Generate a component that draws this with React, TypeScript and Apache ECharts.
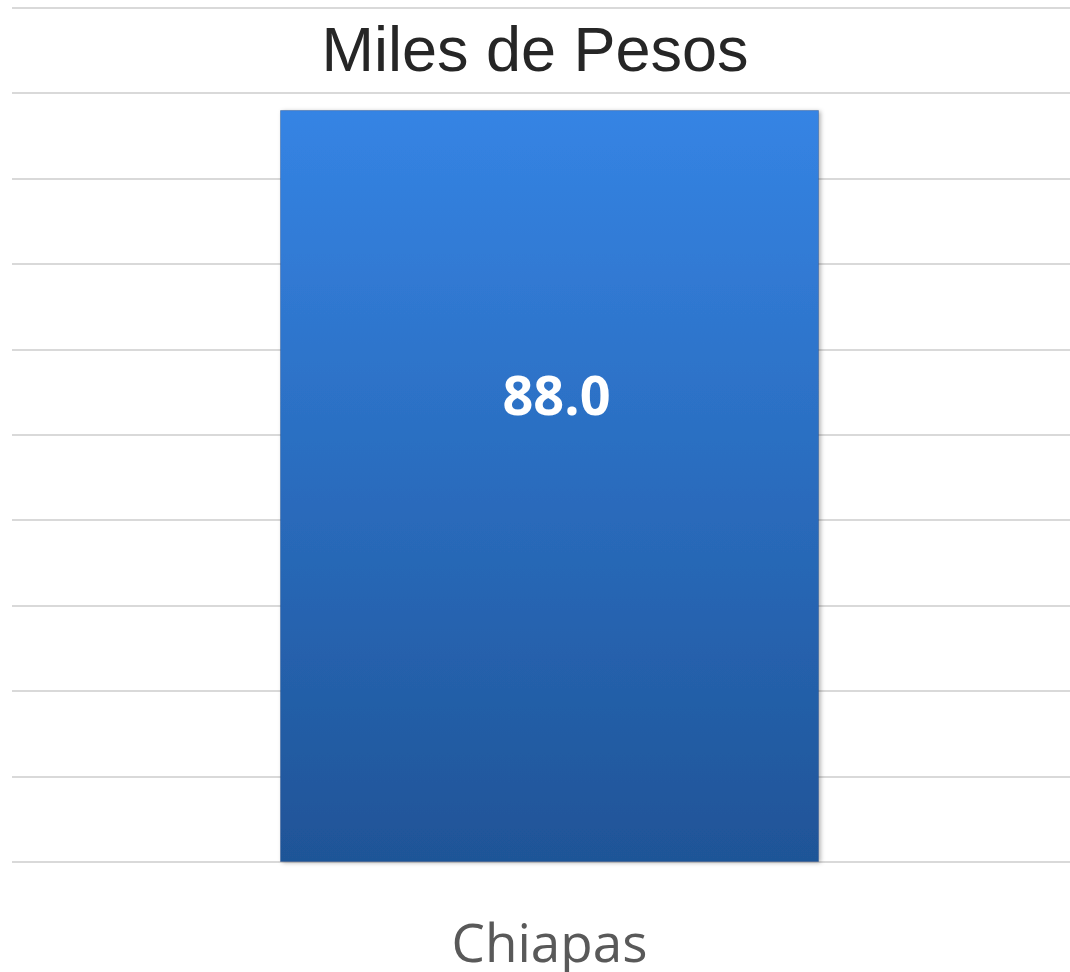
import React, { useEffect, useRef } from "react";
import * as echarts from "echarts";

const categories: string[] = ["Chiapas"];
const values: number[] = [88.0];
const titleText = "Miles de Pesos";
const yMin = 0;
const yMax = 100;
const yInterval = 10;

export default function App() {
  const ref = useRef<HTMLDivElement>(null);
  useEffect(() => {
    if (!ref.current) return;
    const chart = echarts.init(ref.current, undefined, { renderer: "svg" });
    chart.setOption({
      animation: false,
      backgroundColor: "#ffffff",
      title: {
        text: titleText,
        left: "center",
        top: 12,
        textStyle: {
          fontFamily: "Liberation Sans, Arial, sans-serif",
          fontSize: 63,
          fontWeight: "normal",
          color: "#262626",
        },
      },
      grid: [
        { left: 12, right: 0, top: 7.5, bottom: 110, containLabel: false },
        { left: 29, right: 0, top: 7.5, bottom: 110, containLabel: false },
      ],
      xAxis: [
        {
          type: "category",
          gridIndex: 0,
          data: categories,
          show: false,
        },
        {
          type: "category",
          gridIndex: 1,
          data: categories,
          axisLine: { show: false },
          axisTick: { show: false },
          axisLabel: {
            margin: 52,
            fontFamily: "Open Sans, sans-serif",
            fontSize: 53,
            lineHeight: 54,
            color: "#595959",
          },
        },
      ],
      yAxis: [
        {
          type: "value",
          gridIndex: 0,
          min: yMin,
          max: yMax,
          interval: yInterval,
          axisLabel: { show: false },
          axisLine: { show: false },
          axisTick: { show: false },
          splitLine: { lineStyle: { color: "#d9d9d9", width: 2 } },
        },
        {
          type: "value",
          gridIndex: 1,
          min: yMin,
          max: yMax,
          interval: yInterval,
          axisLabel: { show: false },
          axisLine: { show: false },
          axisTick: { show: false },
          splitLine: { show: false },
        },
      ],
      series: [
        {
          type: "bar",
          xAxisIndex: 1,
          yAxisIndex: 1,
          data: values,
          barWidth: 539,
          itemStyle: {
            color: new echarts.graphic.LinearGradient(0, 0, 0, 1, [
              { offset: 0, color: "#3584E4" },
              { offset: 1, color: "#1F5497" },
            ]),
            borderColor: "rgba(20,60,120,0.35)",
            borderWidth: 1,
            shadowBlur: 4,
            shadowColor: "rgba(0,0,0,0.3)",
            shadowOffsetX: 2,
            shadowOffsetY: 1,
          },
          label: {
            show: true,
            position: "insideTop",
            distance: 257,
            offset: [7, 0],
            formatter: (p: any) => Number(p.value).toFixed(1),
            fontFamily: "Open Sans, sans-serif",
            fontWeight: "bold",
            fontSize: 54,
            color: "#ffffff",
          },
        },
      ],
    });
    return () => chart.dispose();
  }, []);
  return (
    <div
      ref={ref}
      style={{ position: "fixed", left: 0, top: 0, width: 1070, height: 972 }}
    />
  );
}
